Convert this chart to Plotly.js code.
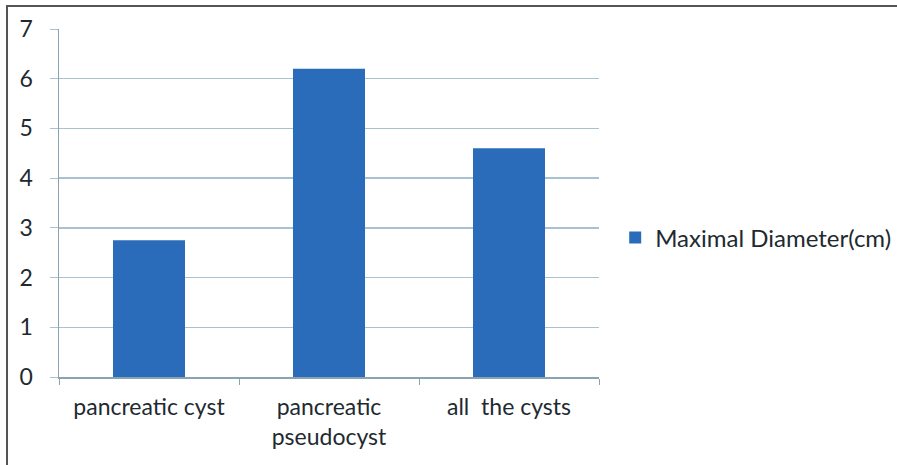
<!DOCTYPE html>
<html>
<head>
<meta charset="utf-8">
<script src="https://cdn.plot.ly/plotly-3.0.1.min.js"></script>
<style>
  html, body { margin: 0; padding: 0; background: #ffffff; }
  #frame { position: absolute; left: 6px; top: 5px; width: 891px; height: 460px;
           border-left: 2px solid #555; border-top: 2px solid #555; box-sizing: border-box; }
  #chart { position: absolute; left: 0; top: 0; width: 889px; height: 458px; }
</style>
</head>
<body>
<div id="frame"><div id="chart"></div></div>
<script>
const categories = ["pancreatic cyst", "pancreatic<br>pseudocyst", "all  the cysts"];
const seriesName = "Maximal Diameter(cm)";
const values = [2.75, 6.2, 4.6];
const yTicks = [0, 1, 2, 3, 4, 5, 6, 7];

const fontFam = "Lato, 'Open Sans', sans-serif";
const textColor = "#1e2a30";
const gridColor = "#a9c2d2";
const axisColor = "#8aa3b3";

const data = [{
  type: "bar",
  x: categories,
  y: values,
  name: seriesName,
  marker: { color: "#2b6cba", line: { width: 0 } },
  showlegend: true
}];

const layout = {
  width: 889, height: 458,
  margin: { l: 51, r: 298, t: 22, b: 88, autoexpand: false },
  paper_bgcolor: "#ffffff",
  plot_bgcolor: "#ffffff",
  bargap: 0.6,
  font: { family: fontFam, size: 23, color: textColor },
  showlegend: true,
  legend: {
    x: 1.03, xanchor: "left", y: 0.40, yanchor: "middle",
    font: { family: fontFam, size: 24, color: textColor },
    bgcolor: "rgba(0,0,0,0)"
  },
  xaxis: {
    type: "category",
    showline: true, linecolor: axisColor, linewidth: 1.5,
    ticks: "outside", tickson: "boundaries", ticklen: 6, tickcolor: axisColor,
    showgrid: false, zeroline: false,
    tickfont: { family: fontFam, size: 23, color: textColor },
    ticklabelstandoff: 9
  },
  yaxis: {
    range: [0, 7],
    tickvals: yTicks,
    ticktext: yTicks.map(String),
    showline: true, linecolor: axisColor, linewidth: 1.5,
    ticks: "outside", ticklen: 8, tickcolor: gridColor,
    showgrid: true, gridcolor: gridColor, gridwidth: 1.5,
    zeroline: false,
    tickfont: { family: fontFam, size: 23, color: textColor },
    ticklabelstandoff: 12
  }
};

Plotly.newPlot("chart", data, layout, { displayModeBar: false, staticPlot: true });
</script>
</body>
</html>
